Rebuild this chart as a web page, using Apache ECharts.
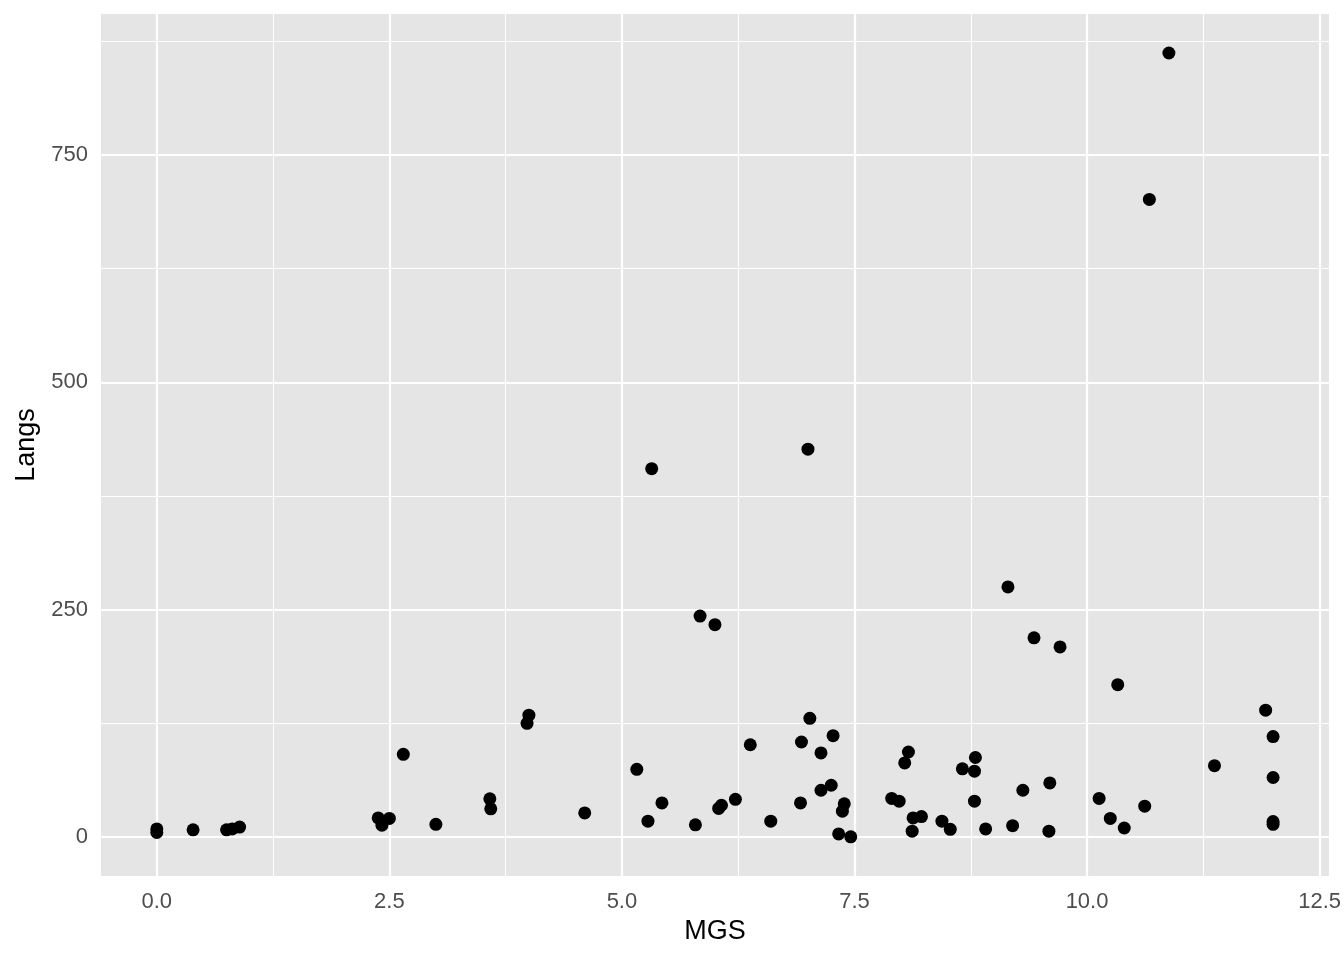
<!DOCTYPE html>
<html>
<head>
<meta charset="utf-8">
<script src="https://cdn.jsdelivr.net/npm/echarts@6/dist/echarts.min.js"></script>
<style>html,body{margin:0;padding:0;background:#fff}#c{width:1344px;height:960px}</style>
</head>
<body>
<div id="c"></div>
<script>
const mgs = [0, 0, 0.39, 0.75, 0.81, 0.89, 2.38, 2.42, 2.50, 2.65, 3.0, 3.58, 3.59, 4.0, 3.98, 4.6,
  5.32, 5.16, 5.28, 5.43, 5.79, 5.84, 6.0, 6.04, 6.07, 6.22, 6.38, 6.6, 6.92, 6.93, 7.0, 7.02,
  7.14, 7.14, 7.27, 7.25, 7.39, 7.37, 7.33, 7.46, 7.9, 7.98, 8.04, 8.08, 8.13, 8.12, 8.22, 8.44,
  8.53, 8.66, 8.8, 8.79, 8.79, 8.91, 9.2, 9.31, 9.6, 9.59, 9.15, 9.43, 9.71, 10.13, 10.25, 10.33,
  10.4, 10.62, 10.67, 10.88, 11.37, 11.92, 12.0, 12.0, 12.0, 12.0];
const langs = [9, 5, 8, 8, 9, 11, 21, 13, 20.5, 91, 14, 42, 31, 134, 125, 26.5,
  405, 74.5, 17.5, 37.5, 13.5, 243, 233.5, 31.5, 35, 41.5, 101.5, 17.5, 37.5, 104.5, 426.5, 130.5,
  92.5, 51.5, 111.5, 57, 36.5, 28.5, 3.5, 0.3, 42.5, 39.5, 81.5, 93.5, 21, 6.5, 22.5, 17.5,
  8.5, 75, 87.5, 72.5, 39.5, 9, 12.5, 51.5, 59.5, 6.5, 275, 219, 209, 42.5, 20.5, 167.5,
  10, 34, 701, 862, 78.5, 139.5, 110.5, 65.5, 17, 14];
const xTicks = [0, 2.5, 5, 7.5, 10, 12.5];
const yTicks = [0, 250, 500, 750];
const xMinor = [1.25, 3.75, 6.25, 8.75, 11.25];
const yMinor = [125, 375, 625, 875];

const points = mgs.map((x, i) => [x, langs[i]]);
const chart = echarts.init(document.getElementById('c'), null, {renderer: 'canvas'});
const lineStyle = (w) => ({color: '#ffffff', width: w, type: 'solid'});
const gridLines = [
  ...xMinor.map(v => ({xAxis: v, lineStyle: lineStyle(1.1)})),
  ...yMinor.map(v => ({yAxis: v, lineStyle: lineStyle(1.1)})),
  ...xTicks.map(v => ({xAxis: v, lineStyle: lineStyle(2.2)})),
  ...yTicks.map(v => ({yAxis: v, lineStyle: lineStyle(2.2)}))
];
const FONT = '"Liberation Sans", Arial, Helvetica, sans-serif';
chart.setOption({
  animation: false,
  backgroundColor: '#ffffff',
  grid: {left: 101, right: 14, top: 14, bottom: 84, show: true, backgroundColor: '#E5E5E5', borderWidth: 0},
  xAxis: {
    type: 'value', min: -0.6, max: 12.6,
    name: 'MGS', nameLocation: 'middle', nameGap: 42,
    nameTextStyle: {fontFamily: FONT, fontSize: 27, color: '#000000'},
    axisLine: {show: false},
    axisTick: {show: true, length: 7, customValues: xTicks, lineStyle: {color: '#333333', width: 2}},
    axisLabel: {customValues: xTicks, margin: 15, fontFamily: FONT, fontSize: 22, color: '#4D4D4D',
      formatter: v => Number(v).toFixed(1)},
    splitLine: {show: false}
  },
  yAxis: {
    type: 'value', min: -42.8, max: 904.9,
    name: 'Langs', nameLocation: 'middle', nameGap: 60, nameRotate: 90,
    nameTextStyle: {fontFamily: FONT, fontSize: 27, color: '#000000'},
    axisLine: {show: false},
    axisTick: {show: true, length: 7, customValues: yTicks, lineStyle: {color: '#333333', width: 2}},
    axisLabel: {customValues: yTicks, margin: 13, fontFamily: FONT, fontSize: 22, color: '#4D4D4D',
      formatter: v => String(Math.round(v))},
    splitLine: {show: false}
  },
  series: [
    {
      type: 'scatter', data: [], z: 1, silent: true,
      markLine: {silent: true, z: 1, symbol: ['none', 'none'], label: {show: false}, animation: false,
        emphasis: {disabled: true}, data: gridLines}
    },
    {
      type: 'scatter', data: points, z: 10, symbol: 'circle', symbolSize: 13,
      itemStyle: {color: '#000000', opacity: 1}, silent: true
    }
  ]
});
</script>
</body>
</html>
